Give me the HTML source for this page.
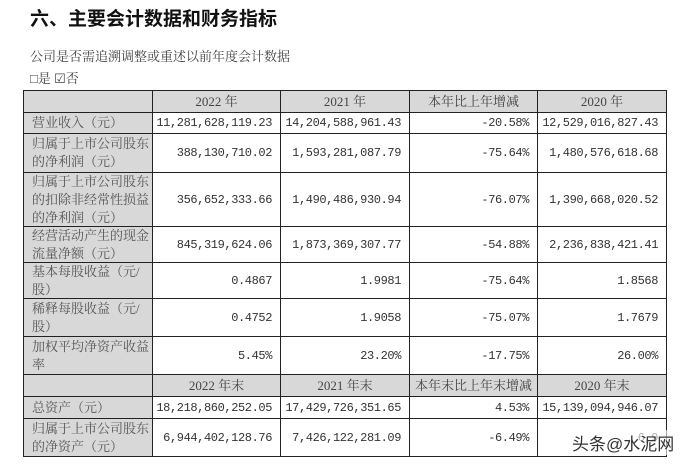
<!DOCTYPE html>
<html><head><meta charset="utf-8"><style>
body{margin:0;width:690px;height:465px;background:#fff;position:relative;overflow:hidden;font-family:"Liberation Serif","Noto Serif CJK SC",serif;color:#333}
.t{position:absolute;left:30px;top:4px;font-size:19px;font-weight:bold;font-family:"Liberation Sans","Noto Sans CJK SC",sans-serif;color:#111}
.s{position:absolute;left:30px;font-size:13px;color:#444;font-family:"Liberation Serif","Noto Serif CJK SC",serif}
.c{position:absolute;border:1px solid #222;box-sizing:border-box;display:flex;align-items:center;font-size:13px;line-height:18px}
.g{background:#d8d8d8}
.l{padding-left:8px;color:#555}
.r{justify-content:flex-end;padding-right:8px;font-family:"Liberation Mono",monospace;font-size:12px;letter-spacing:-0.4px}
.h{justify-content:center;color:#444}
</style></head><body>
<div class="t">六、主要会计数据和财务指标</div>
<div class="s" style="top:46px">公司是否需追溯调整或重述以前年度会计数据</div>
<div class="s" style="top:68px">□是 ☑否</div>
<div id="tb"></div>
<script>
var X=[23,152,280,409,537,666];
var R=[[90,112,'h',['','2022 年','2021 年','本年比上年增减','2020 年']],
[112,133,'d',['营业收入（元）','11,281,628,119.23','14,204,588,961.43','-20.58%','12,529,016,827.43']],
[133,172,'d',['归属于上市公司股东<br>的净利润（元）','388,130,710.02','1,593,281,087.79','-75.64%','1,480,576,618.68']],
[172,226,'d',['归属于上市公司股东<br>的扣除非经常性损益<br>的净利润（元）','356,652,333.66','1,490,486,930.94','-76.07%','1,390,668,020.52']],
[226,262,'d',['经营活动产生的现金<br>流量净额（元）','845,319,624.06','1,873,369,307.77','-54.88%','2,236,838,421.41']],
[262,298,'d',['基本每股收益（元/<br>股）','0.4867','1.9981','-75.64%','1.8568']],
[298,336,'d',['稀释每股收益（元/<br>股）','0.4752','1.9058','-75.07%','1.7679']],
[336,374,'d',['加权平均净资产收益<br>率','5.45%','23.20%','-17.75%','26.00%']],
[374,396,'h',['','2022 年末','2021 年末','本年末比上年末增减','2020 年末']],
[396,418,'d',['总资产（元）','18,218,860,252.05','17,429,726,351.65','4.53%','15,139,094,946.07']],
[418,456,'d',['归属于上市公司股东<br>的净资产（元）','6,944,402,128.76','7,426,122,281.09','-6.49%','6,9']]];
var h='';
R.forEach(function(r){for(var i=0;i<5;i++){var cls='c ';if(r[2]=='h'){cls+='g h';}else if(i==0){cls+='g l';}else cls+='r';
h+='<div class="'+cls+'" style="left:'+X[i]+'px;top:'+r[0]+'px;width:'+(X[i+1]-X[i]+1)+'px;height:'+(r[1]-r[0]+1)+'px">'+r[3][i]+'</div>';}});
document.getElementById('tb').innerHTML=h;
</script>
<div style="position:absolute;left:572px;top:430px;font-size:17px;color:#333;font-family:'Liberation Sans','Noto Sans CJK SC',sans-serif;background:rgba(255,255,255,0.6)">头条@水泥网</div>
</body></html>
